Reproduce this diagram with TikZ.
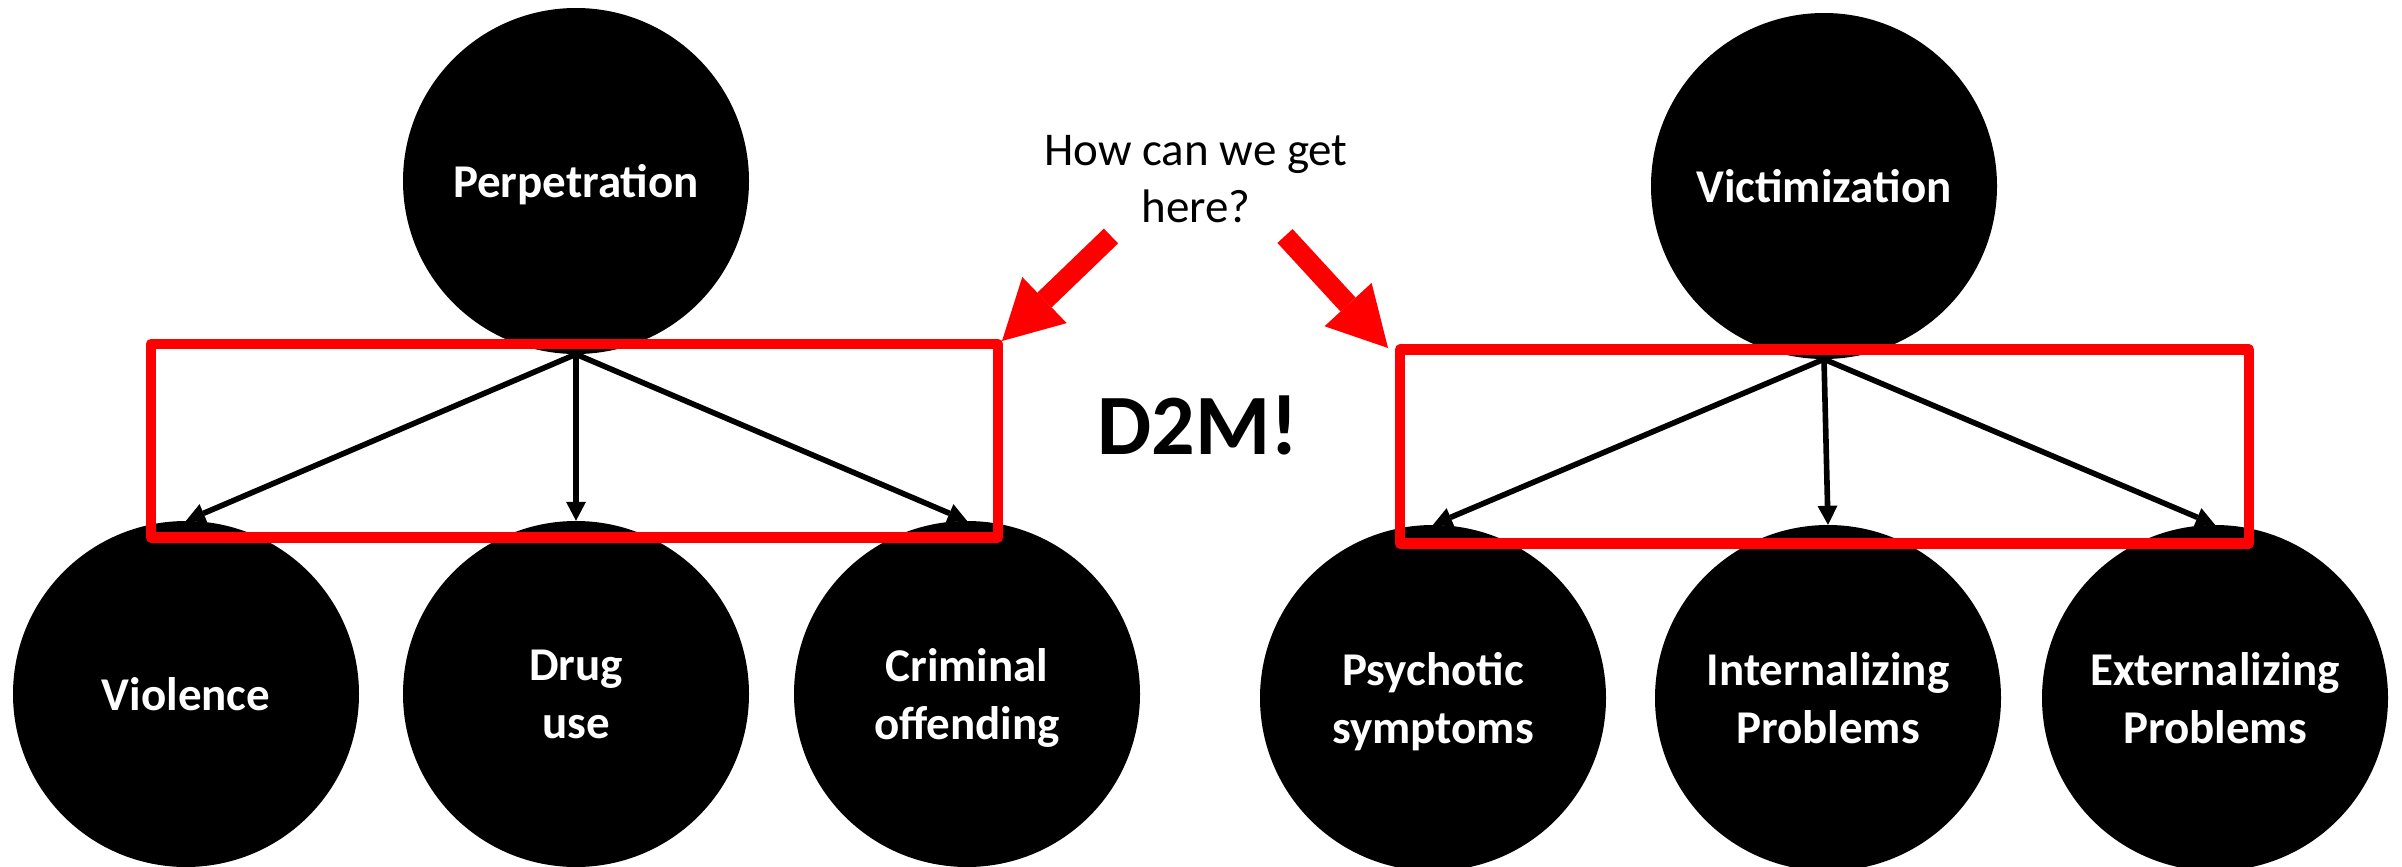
\documentclass[tikz,border=0pt]{standalone}
\usepackage{fontspec}
\setmainfont{Carlito}
\usetikzlibrary{arrows.meta,backgrounds}
\definecolor{pptred}{RGB}{255,0,0}
\begin{document}
\begin{tikzpicture}[x=1pt,y=-1pt,
  bubble/.style={circle, fill=black, minimum size=346pt, inner sep=0pt, text=white,
    font=\fontsize{47}{58}\selectfont\bfseries, align=center, text depth=0pt},
  link/.style={line width=5.6pt, -{Triangle[length=19pt,width=20pt,line width=0pt]}},
  frame/.style={draw=pptred, line width=10.5pt, line join=round, inner sep=0pt},
  bigarrow/.style={pptred, line width=20.5pt, -{Triangle[length=59pt,width=64pt,line width=0pt]}},
  plain/.style={font=\fontsize{47}{57}\selectfont, align=center, text depth=0pt, inner sep=0pt}
]
\useasboundingbox (0,0) rectangle (2402,867);

% top nodes
\node[bubble] (perp) at (576,181) {Perpetration};
\node[bubble] (vict) at (1824,186) {Victimization};

% bottom nodes (left)
\node[bubble] (viol) at (186,694) {Violence};
\node[bubble] (drug) at (576,694) {Drug\\use};
\node[bubble] (crim) at (967,694) {Criminal\\offending};

% bottom nodes (right)
\node[bubble] (psych) at (1433,698) {Psychotic\\symptoms};
\node[bubble] (inter) at (1828,698) {Internalizing\\Problems};
\node[bubble] (exter) at (2215,698) {Externalizing\\Problems};

% connectors
\begin{scope}[on background layer]
\draw[link] (perp.south) -- (viol.north);
\draw[link] (perp.south) -- (drug.north);
\draw[link] (perp.south) -- (crim.north);
\draw[link] (vict.south) -- (psych.north);
\draw[link] (vict.south) -- (inter.north);
\draw[link] (vict.south) -- (exter.north);
\end{scope}

% red frames
\node[frame, minimum width=847pt, minimum height=193.5pt] (boxL) at (574.5,440.75) {};
\node[frame, minimum width=849pt, minimum height=194pt] (boxR) at (1824.5,446.5) {};

% texts
\node[plain] (q) at (1196,178.5) {How can we get\\here?};
\node[plain, font=\fontsize{86}{100}\selectfont\bfseries] (d2m) at (1198,425) {D2M!};

% red arrows
\coordinate (tailL) at (1111,236);
\coordinate (tipL) at (1002,341);
\coordinate (tailR) at (1285,236);
\coordinate (tipR) at (1388,348);
\draw[bigarrow] (tailL) -- (tipL);
\draw[bigarrow] (tailR) -- (tipR);
\end{tikzpicture}
\end{document}
